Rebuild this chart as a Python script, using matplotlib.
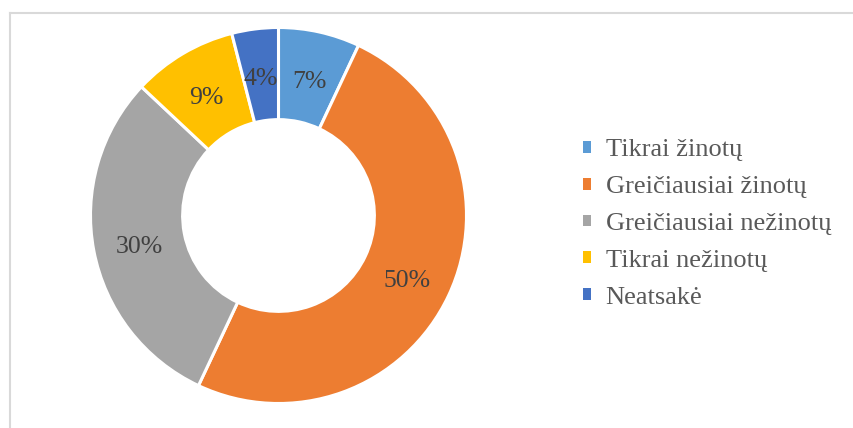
import matplotlib
matplotlib.use("Agg")
import matplotlib.pyplot as plt
from matplotlib.patches import Patch
from matplotlib.lines import Line2D

# === DATA ===
categories = ["Tikrai žinotų", "Greičiausiai žinotų", "Greičiausiai nežinotų",
              "Tikrai nežinotų", "Neatsakė"]
shares = [7, 50, 30, 9, 4]
colors = ["#5B9BD5", "#ED7D31", "#A5A5A5", "#FFC000", "#4472C4"]

plt.rcParams["font.family"] = ["Liberation Serif", "DejaVu Serif"]

W, H = 854, 428
fig = plt.figure(figsize=(W / 100, H / 100), dpi=100)

# chart frame: top and left edges only
fig.add_artist(Line2D([10.5 / W, 1.0], [1 - 13 / H, 1 - 13 / H],
                      color="#D9D9D9", linewidth=1.5, transform=fig.transFigure))
fig.add_artist(Line2D([10.5 / W, 10.5 / W], [0, 1 - 13 / H],
                      color="#D9D9D9", linewidth=1.5, transform=fig.transFigure))

# doughnut
cx, cy, r = 278.5, 215.5, 188
ax = fig.add_axes([(cx - r) / W, (H - cy - r) / H, 2 * r / W, 2 * r / H])
wedges, texts = ax.pie(
    shares, colors=colors, startangle=90, counterclock=False, radius=1.0,
    labels=[f"{v}%" for v in shares], labeldistance=0.755,
    wedgeprops=dict(width=0.49, edgecolor="white", linewidth=2.2),
    textprops=dict(color="#404040", fontsize=18.5, ha="center", va="center"),
)
for t in texts:
    x, y = t.get_position()
    t.set_position((x, y - 0.025))
ax.set_xlim(-1, 1)
ax.set_ylim(-1, 1)
ax.set_aspect("equal")
ax.axis("off")

# legend
handles = [Patch(facecolor=c, edgecolor="none") for c in colors]
leg = fig.legend(handles, categories, loc="center left",
                 bbox_to_anchor=(572 / W, 1 - 224 / H), frameon=False,
                 fontsize=19, handlelength=0.32, handleheight=0.32,
                 handletextpad=0.55, labelspacing=0.56, borderaxespad=0)
for t in leg.get_texts():
    t.set_color("#595959")

plt.savefig("out.png", dpi=100)
plt.close()
